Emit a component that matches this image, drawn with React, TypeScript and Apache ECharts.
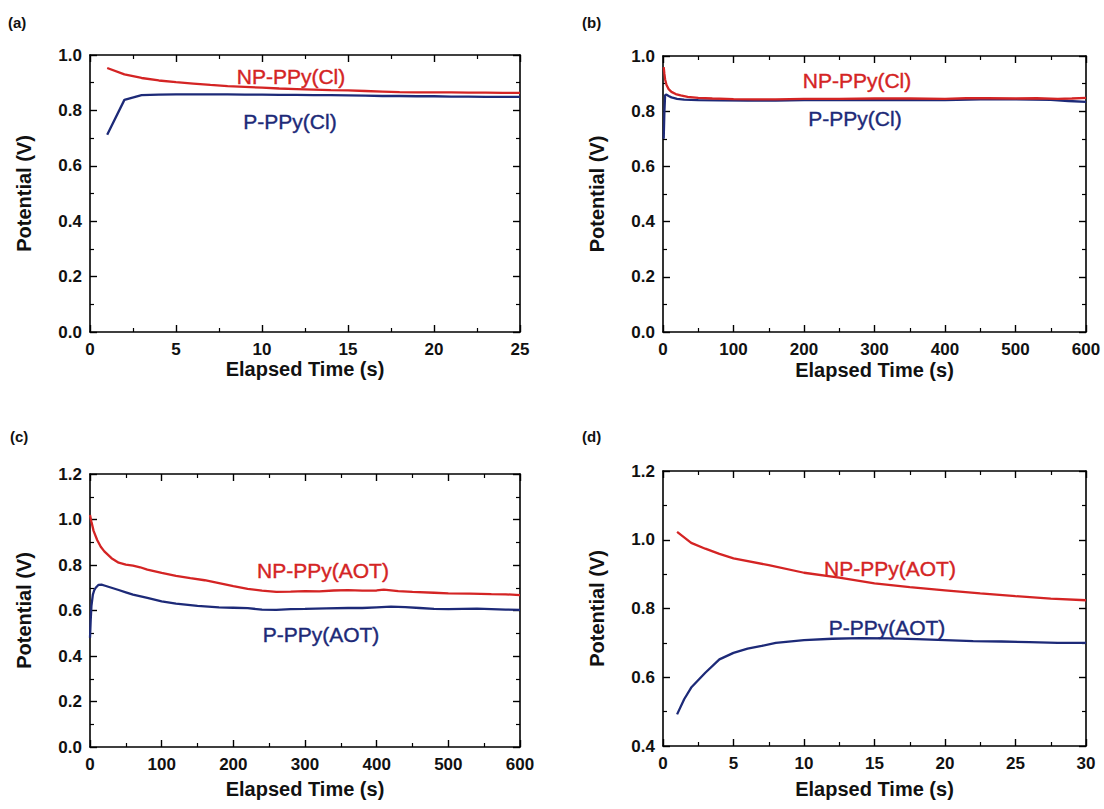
import React, { useEffect, useRef } from "react";
import * as echarts from "echarts";

// ---------- data ----------
const aTimeNP = [1, 2, 3, 4, 5, 6, 7, 8, 9, 10, 11, 12, 13, 14, 15, 16, 17, 18, 19, 20, 21, 22, 23, 24, 25];
const aNP = [0.953, 0.93, 0.917, 0.908, 0.902, 0.897, 0.892, 0.888, 0.885, 0.882, 0.879, 0.877, 0.875, 0.873, 0.872, 0.87, 0.868, 0.866, 0.865, 0.865, 0.865, 0.864, 0.864, 0.863, 0.863];
const aP = [0.712, 0.838, 0.855, 0.857, 0.858, 0.858, 0.858, 0.858, 0.857, 0.857, 0.856, 0.856, 0.855, 0.855, 0.854, 0.853, 0.852, 0.852, 0.851, 0.851, 0.85, 0.85, 0.849, 0.849, 0.849];

const bTimeNP = [1, 2, 3, 5, 8, 12, 18, 25, 35, 50, 70, 100, 130, 160, 200, 250, 300, 350, 400, 430, 460, 500, 530, 560, 580, 600];
const bNP = [0.96, 0.935, 0.915, 0.895, 0.88, 0.87, 0.862, 0.857, 0.852, 0.848, 0.846, 0.844, 0.843, 0.843, 0.845, 0.845, 0.846, 0.846, 0.845, 0.847, 0.847, 0.846, 0.847, 0.845, 0.846, 0.848];
const bTimeP = [1, 2, 3, 5, 8, 12, 20, 30, 50, 80, 120, 160, 200, 250, 300, 350, 400, 450, 500, 550, 575, 600];
const bP = [0.7, 0.8, 0.858, 0.86, 0.855, 0.85, 0.845, 0.842, 0.84, 0.839, 0.838, 0.838, 0.84, 0.84, 0.841, 0.84, 0.84, 0.843, 0.843, 0.841, 0.837, 0.834];

const cTimeNP = [0, 2, 5, 10, 15, 20, 30, 40, 50, 60, 70, 80, 100, 120, 140, 160, 180, 200, 220, 240, 260, 280, 300, 320, 340, 360, 380, 400, 410, 430, 450, 480, 500, 530, 560, 580, 600];
const cNP = [1.02, 0.99, 0.95, 0.91, 0.88, 0.86, 0.83, 0.81, 0.802, 0.797, 0.79, 0.78, 0.765, 0.752, 0.742, 0.733, 0.72, 0.707, 0.695, 0.687, 0.682, 0.683, 0.685, 0.684, 0.688, 0.69, 0.687, 0.688, 0.692, 0.685, 0.682, 0.678, 0.675, 0.674, 0.672, 0.671, 0.668];
const cTimeP = [0, 1, 2, 4, 6, 8, 12, 16, 20, 30, 40, 50, 60, 80, 100, 120, 150, 180, 200, 220, 240, 260, 280, 300, 330, 360, 380, 400, 420, 440, 460, 480, 500, 520, 540, 560, 580, 600];
const cP = [0.48, 0.56, 0.62, 0.67, 0.69, 0.7, 0.713, 0.714, 0.71, 0.7, 0.69, 0.68, 0.67, 0.655, 0.64, 0.63, 0.62, 0.614, 0.612, 0.61, 0.604, 0.603, 0.606, 0.607, 0.609, 0.611, 0.611, 0.614, 0.617, 0.615, 0.611, 0.607, 0.606, 0.607, 0.608, 0.606, 0.604, 0.603];

const dTimeNP = [1, 2, 3, 4, 5, 7.5, 10, 12.5, 15, 17.5, 20, 22.5, 25, 27.5, 30];
const dNP = [1.023, 0.991, 0.974, 0.959, 0.946, 0.926, 0.904, 0.89, 0.873, 0.862, 0.853, 0.844, 0.836, 0.829, 0.824];
const dTimeP = [1, 1.5, 2, 3, 4, 5, 6, 7, 8, 10, 12, 14, 16, 18, 20, 22, 24, 26, 28, 30];
const dP = [0.492, 0.536, 0.57, 0.613, 0.652, 0.671, 0.683, 0.691, 0.7, 0.708, 0.712, 0.714, 0.713, 0.711, 0.708, 0.705, 0.704, 0.702, 0.7, 0.7];

const panelLabels = ["(a)", "(b)", "(c)", "(d)"];
const seriesNames = ["NP-PPy(Cl)", "P-PPy(Cl)", "NP-PPy(Cl)", "P-PPy(Cl)", "NP-PPy(AOT)", "P-PPy(AOT)", "NP-PPy(AOT)", "P-PPy(AOT)"];
const xAxisName = "Elapsed Time (s)";
const yAxisName = "Potential (V)";

const RED = "#d42424";
const BLUE = "#1d2a78";
const FONT = "'Liberation Sans', Arial, Helvetica, sans-serif";

const zip = (xs: number[], ys: number[]) => xs.map((x, i) => [x, ys[i]]);

export default function App() {
  const ref = useRef<HTMLDivElement>(null);
  useEffect(() => {
    if (!ref.current) return;
    const chart = echarts.init(ref.current, null, { renderer: "svg" });

    const grids = [
      { left: 90, top: 55, width: 430, height: 277 },
      { left: 663, top: 56, width: 423, height: 276 },
      { left: 90, top: 474, width: 430, height: 273 },
      { left: 663, top: 471, width: 423, height: 275 },
    ];
    const xRanges = [
      { min: 0, max: 25, interval: 5 },
      { min: 0, max: 600, interval: 100 },
      { min: 0, max: 600, interval: 100 },
      { min: 0, max: 30, interval: 5 },
    ];
    const yRanges = [
      { min: 0, max: 1.0, interval: 0.2 },
      { min: 0, max: 1.0, interval: 0.2 },
      { min: 0, max: 1.2, interval: 0.2 },
      { min: 0.4, max: 1.2, interval: 0.2 },
    ];
    const xNameGaps = [27, 28, 32, 33];

    const axisLine = { show: true, onZero: false, lineStyle: { color: "#000", width: 1.6 } };
    const axisTick = { show: true, inside: true, length: 7, lineStyle: { color: "#000", width: 1.4 } };
    const minorTick = { show: true, splitNumber: 2, length: 4, lineStyle: { color: "#000", width: 1.2 } };

    const xAxis: any[] = [];
    const yAxis: any[] = [];
    grids.forEach((g, i) => {
      xAxis.push({
        type: "value",
        gridIndex: i,
        position: "bottom",
        ...xRanges[i],
        name: xAxisName,
        nameLocation: "middle",
        nameGap: xNameGaps[i],
        nameTextStyle: { fontFamily: FONT, fontSize: 20, fontWeight: "bold", color: "#111" },
        axisLine,
        axisTick,
        minorTick,
        splitLine: { show: false },
        axisLabel: { fontFamily: FONT, fontSize: 17, fontWeight: "bold", color: "#111", margin: 9 },
      });
      xAxis.push({
        type: "value",
        gridIndex: i,
        position: "top",
        ...xRanges[i],
        axisLine,
        axisTick,
        minorTick,
        splitLine: { show: false },
        axisLabel: { show: false },
      });
      yAxis.push({
        type: "value",
        gridIndex: i,
        position: "left",
        ...yRanges[i],
        name: yAxisName,
        nameLocation: "middle",
        nameGap: 56,
        nameRotate: 90,
        nameTextStyle: { fontFamily: FONT, fontSize: 20, fontWeight: "bold", color: "#111" },
        axisLine,
        axisTick,
        minorTick,
        splitLine: { show: false },
        axisLabel: {
          fontFamily: FONT,
          fontSize: 17,
          fontWeight: "bold",
          color: "#111",
          margin: 8,
          formatter: (v: number) => v.toFixed(1),
        },
      });
      yAxis.push({
        type: "value",
        gridIndex: i,
        position: "right",
        ...yRanges[i],
        axisLine,
        axisTick,
        minorTick,
        splitLine: { show: false },
        axisLabel: { show: false },
      });
    });

    const seriesData = [
      zip(aTimeNP, aNP),
      zip(aTimeNP, aP),
      zip(bTimeNP, bNP),
      zip(bTimeP, bP),
      zip(cTimeNP, cNP),
      zip(cTimeP, cP),
      zip(dTimeNP, dNP),
      zip(dTimeP, dP),
    ];
    const series = seriesData.map((data, k) => {
      const panel = Math.floor(k / 2);
      const isNP = k % 2 === 0;
      return {
        type: "line",
        name: seriesNames[k],
        xAxisIndex: panel * 2,
        yAxisIndex: panel * 2,
        data,
        showSymbol: false,
        symbol: "none",
        smooth: false,
        lineStyle: { color: isNP ? RED : BLUE, width: 2.3 },
        z: isNP ? 3 : 2,
      };
    });

    const labelPos = [
      { x: 291, y: 76 }, { x: 290, y: 121 },
      { x: 857, y: 80 }, { x: 855, y: 118 },
      { x: 323, y: 570 }, { x: 321, y: 634 },
      { x: 890, y: 568 }, { x: 887, y: 627 },
    ];
    const panelPos = [
      { x: 8, y: 22 }, { x: 582, y: 22 }, { x: 10, y: 436 }, { x: 582, y: 436 },
    ];

    const graphic: any[] = [];
    labelPos.forEach((p, k) => {
      graphic.push({
        type: "text",
        x: p.x,
        y: p.y,
        style: {
          text: seriesNames[k],
          fill: k % 2 === 0 ? RED : BLUE,
          font: `21px ${FONT}`,
          align: "center",
          verticalAlign: "middle",
          stroke: k % 2 === 0 ? RED : BLUE,
          lineWidth: 0.4,
        },
        z: 10,
      });
    });
    panelPos.forEach((p, i) => {
      graphic.push({
        type: "text",
        x: p.x,
        y: p.y,
        style: {
          text: panelLabels[i],
          fill: "#111",
          font: `bold 15px ${FONT}`,
          align: "left",
          verticalAlign: "middle",
        },
      });
    });

    chart.setOption({
      animation: false,
      backgroundColor: "#fff",
      grid: grids.map((g) => ({ ...g, containLabel: false })),
      xAxis,
      yAxis,
      series,
      graphic,
    });

    return () => chart.dispose();
  }, []);

  return (
    <div
      ref={ref}
      style={{ position: "fixed", left: 0, top: 0, width: 1104, height: 809, background: "#fff" }}
    />
  );
}
